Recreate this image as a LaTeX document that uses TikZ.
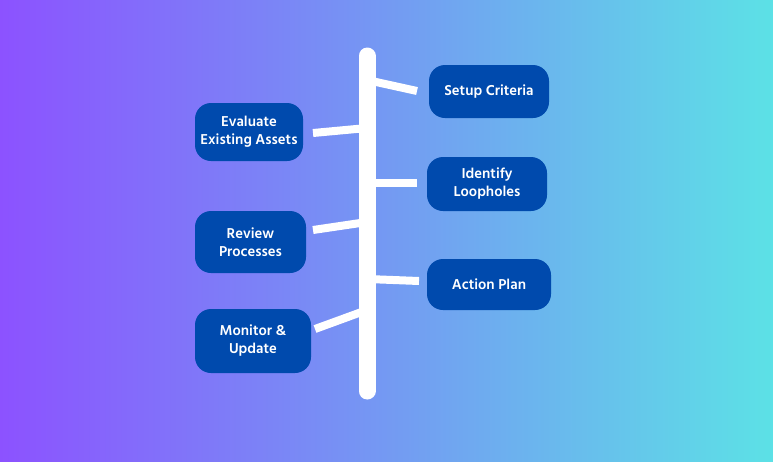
\documentclass[tikz,border=0pt]{standalone}
\usepackage{fontspec}
\setmainfont{Hind Siliguri}
\definecolor{bgleft}{HTML}{8C52FF}
\definecolor{bgright}{HTML}{5CE1E6}
\definecolor{boxblue}{HTML}{004AAD}
\begin{document}
\begin{tikzpicture}[x=1pt, y=-1pt]
			\tikzstyle{step box} = [rectangle, rounded corners=16pt, fill=boxblue, text=white, font=\fontsize{14.7}{18}\selectfont\bfseries, align=center, inner sep=0pt]
			\tikzstyle{branch}   = [white, line width=8pt]

			\shade[left color=bgleft, right color=bgright] (0,0) rectangle (773,461);
			\useasboundingbox (0,0) rectangle (773,461);

			% spine
			\coordinate (top) at (367,56);
			\coordinate (bottom) at (367,391);
			\draw[white, line width=17pt, line cap=round] (top) -- (bottom);

			\foreach \name/\x/\y/\w/\h/\text in {setup/489/91.5/120/53/{Setup Criteria}, evaluate/249/132/108/58/{Evaluate\\Existing Assets}, identify/487/184/120/54/{Identify\\Loopholes}, review/250.5/242/111/62/{Review\\Processes}, action/489/284.5/124/51/{Action Plan}, monitor/253/341/116/64/{Monitor \&\\Update}}
				\node[step box, minimum width=\w pt, minimum height=\h pt] (\name) at (\x, \y) {\text};

			% branch ends
			\foreach \name/\x/\y in {s0/367/80, s1/417/91, e0/313/133, e1/367/128, i0/367/183, i1/417/183, r0/313/230, r1/367/222, a0/367/279, a1/419/281, m0/315/329, m1/367/310}
				\coordinate (\name) at (\x, \y);

			\foreach \from/\to in {s0/s1, e0/e1, i0/i1, r0/r1, a0/a1, m0/m1}
				\draw[branch] (\from) -- (\to);
		\end{tikzpicture}
\end{document}
